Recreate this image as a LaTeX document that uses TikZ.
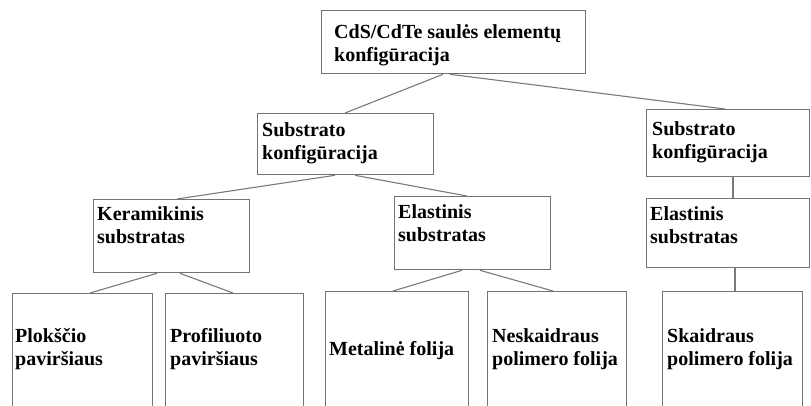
\documentclass[tikz,border=0pt]{standalone}
\usepackage{fontspec}
\setmainfont{Liberation Serif}
\newcommand{\mytwo}[2]{\vtop{\hbox{#1}\hbox{#2}}}
\tikzset{
  box/.style={draw=black!55, line width=1.3pt, inner sep=0pt, anchor=north west, fill=white},
  lbl/.style={inner sep=0pt, anchor=base west, text=black, font=\fontsize{20}{23}\selectfont\bfseries},
  conn/.style={draw=black!52, line width=1.1pt}
}
\begin{document}
\begin{tikzpicture}[x=1pt,y=-1pt]
\useasboundingbox (0,0) rectangle (811,405);
\clip (0,0) rectangle (811,405);
\fill[white] (0,0) rectangle (811,405);
% boxes
\node[box, minimum width=264pt, minimum height=63pt] (top) at (321,10) {};
\node[box, minimum width=176pt, minimum height=61pt] (sub1) at (257,113) {};
\node[box, minimum width=163pt, minimum height=67pt] (sub2) at (646,109) {};
\node[box, minimum width=156pt, minimum height=73pt] (ker) at (93,199) {};
\node[box, minimum width=156pt, minimum height=73pt] (ela1) at (394,196) {};
\node[box, minimum width=163pt, minimum height=69pt] (ela2) at (646,198) {};
\node[box, minimum width=140pt, minimum height=130pt] (plo) at (12,293) {};
\node[box, minimum width=138pt, minimum height=130pt] (pro) at (165,293) {};
\node[box, minimum width=143pt, minimum height=130pt] (met) at (325,291) {};
\node[box, minimum width=139pt, minimum height=130pt] (nes) at (487,291) {};
\node[box, minimum width=140pt, minimum height=130pt] (ska) at (662,291) {};
% connectors
\draw[conn] ([xshift=122pt]top.south west) -- ([xshift=88pt]sub1.north west);
\draw[conn] ([xshift=129pt]top.south west) -- ([xshift=79pt]sub2.north west);
\draw[conn] ([xshift=78pt]sub1.south west) -- ([xshift=84pt]ker.north west);
\draw[conn] ([xshift=98pt]sub1.south west) -- ([xshift=73pt]ela1.north west);
\draw[conn] ([xshift=87pt]sub2.south west) -- ([xshift=87pt]ela2.north west);
\draw[conn] ([xshift=64pt]ker.south west) -- ([xshift=78pt]plo.north west);
\draw[conn] ([xshift=87pt]ker.south west) -- ([xshift=68pt]pro.north west);
\draw[conn] ([xshift=68pt]ela1.south west) -- ([xshift=68pt]met.north west);
\draw[conn] ([xshift=86pt]ela1.south west) -- ([xshift=66pt]nes.north west);
\draw[conn] ([xshift=89pt]ela2.south west) -- ([xshift=73pt]ska.north west);
% labels
\node[lbl] (topt) at (334,38) {\mytwo{CdS/CdTe saulės elementų}{konfigūracija}};
\node[lbl] (sub1t) at (262,136.5) {\mytwo{Substrato}{konfigūracija}};
\node[lbl] (sub2t) at (652,135) {\mytwo{Substrato}{konfigūracija}};
\node[lbl] (kert) at (97,220) {\mytwo{Keramikinis}{substratas}};
\node[lbl] (ela1t) at (398,218) {\mytwo{Elastinis}{substratas}};
\node[lbl] (ela2t) at (650,220) {\mytwo{Elastinis}{substratas}};
\node[lbl] (plot) at (15,342.5) {\mytwo{Plokščio}{paviršiaus}};
\node[lbl] (prot) at (170,342.5) {\mytwo{Profiliuoto}{paviršiaus}};
\node[lbl] (mett) at (329,355) {Metalinė folija};
\node[lbl] (nest) at (492,342.5) {\mytwo{Neskaidraus}{polimero folija}};
\node[lbl] (skat) at (667,342.5) {\mytwo{Skaidraus}{polimero folija}};
\end{tikzpicture}
\end{document}
